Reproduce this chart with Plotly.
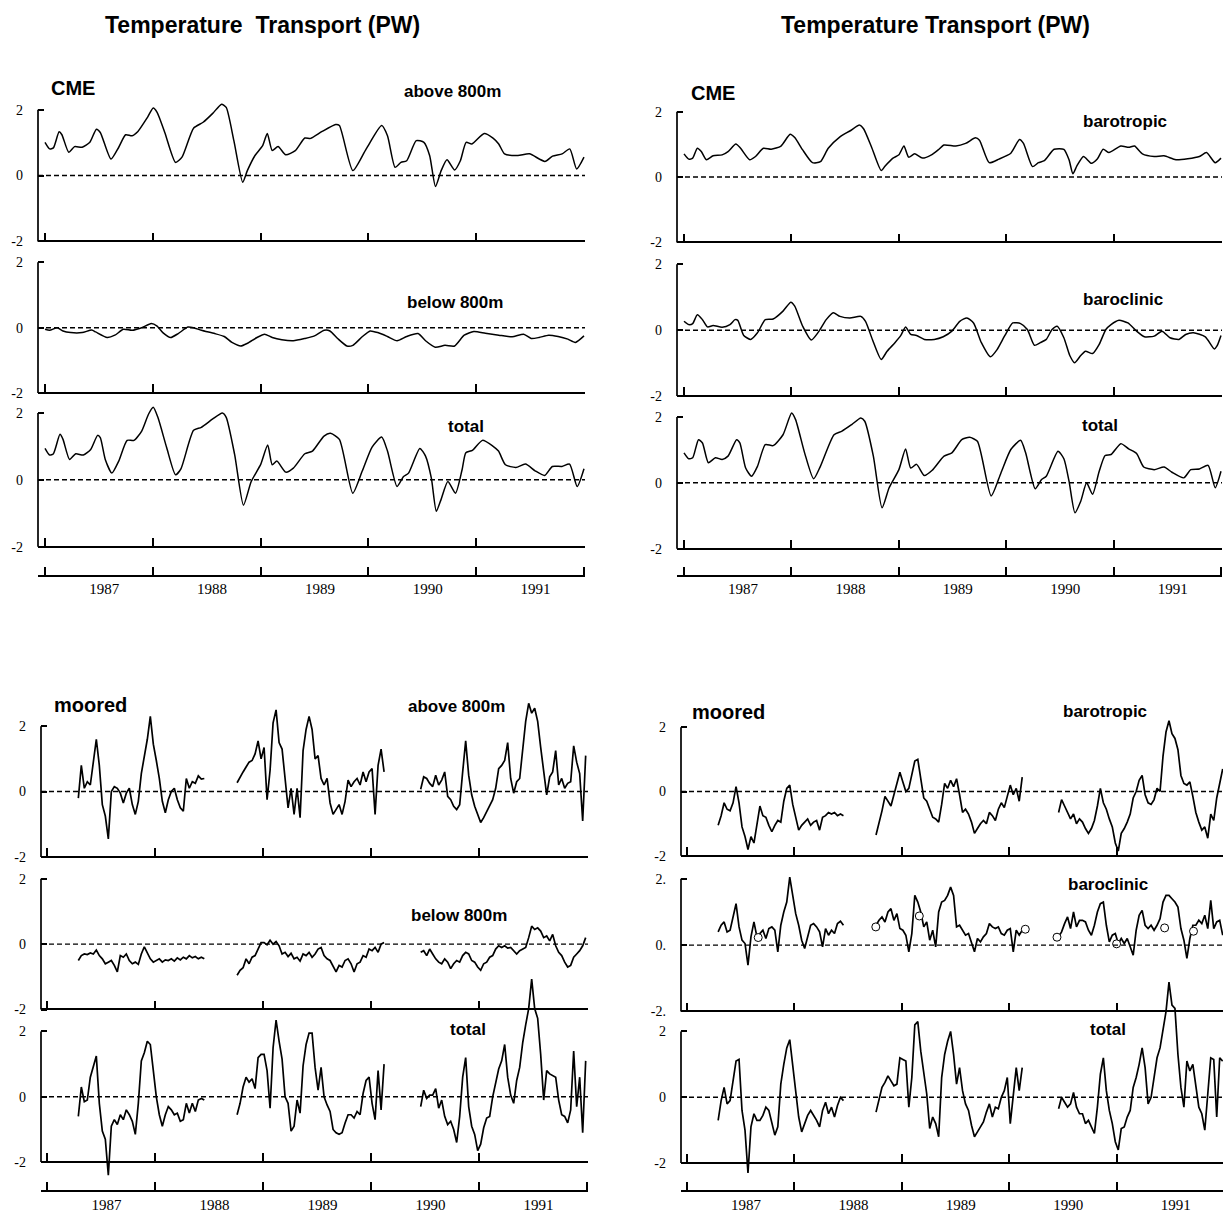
import numpy as np
import plotly.graph_objects as go

W, H = 1223, 1213

# ---------------------------------------------------------------- data
years = [1987, 1988, 1989, 1990, 1991, 1992]
year_labels = ["1987", "1988", "1989", "1990", "1991"]

# CME model transports (decimal year, PW)
cme_above_t = [1987.000, 1987.043, 1987.078, 1987.131, 1987.157, 1987.220, 1987.274, 1987.345, 1987.416, 1987.477,
               1987.513, 1987.612, 1987.684, 1987.748, 1987.808, 1987.862, 1987.951, 1988.004, 1988.040, 1988.111,
               1988.211, 1988.271, 1988.378, 1988.467, 1988.556, 1988.638, 1988.681, 1988.752, 1988.834, 1988.877,
               1988.948, 1989.019, 1989.062, 1989.108, 1989.162, 1989.233, 1989.322, 1989.410, 1989.464, 1989.571,
               1989.696, 1989.731, 1989.856, 1989.980, 1990.123, 1990.177, 1990.248, 1990.302, 1990.355, 1990.444,
               1990.515, 1990.568, 1990.622, 1990.675, 1990.729, 1990.800, 1990.853, 1990.907, 1990.960, 1991.074,
               1991.156, 1991.209, 1991.263, 1991.387, 1991.494, 1991.637, 1991.708, 1991.797, 1991.868, 1991.932,
               1992.000]
cme_above_v = [1.01, 0.81, 0.84, 1.33, 1.24, 0.71, 0.88, 0.86, 1.01, 1.41,
               1.31, 0.50, 0.86, 1.24, 1.21, 1.34, 1.77, 2.05, 1.92, 1.31,
               0.40, 0.56, 1.44, 1.62, 1.89, 2.17, 2.07, 1.06, -0.20, 0.15,
               0.61, 0.91, 1.28, 0.76, 0.88, 0.63, 0.76, 1.14, 1.13, 1.34,
               1.55, 1.52, 0.15, 0.81, 1.52, 1.21, 0.25, 0.40, 0.45, 1.06,
               1.01, 0.61, -0.33, 0.15, 0.48, 0.17, 0.45, 1.01, 0.96, 1.28,
               1.14, 0.96, 0.66, 0.61, 0.66, 0.43, 0.59, 0.66, 0.81, 0.20,
               0.56]

cme_below_t = [1987.000, 1987.043, 1987.114, 1987.167, 1987.238, 1987.345, 1987.434, 1987.470, 1987.577, 1987.648,
               1987.727, 1987.808, 1987.897, 1987.986, 1988.040, 1988.093, 1988.165, 1988.236, 1988.325, 1988.378,
               1988.450, 1988.574, 1988.663, 1988.734, 1988.816, 1988.877, 1988.966, 1989.037, 1989.108, 1989.197,
               1989.304, 1989.410, 1989.500, 1989.590, 1989.643, 1989.714, 1989.800, 1989.856, 1989.945, 1990.016,
               1990.087, 1990.177, 1990.266, 1990.355, 1990.460, 1990.530, 1990.620, 1990.710, 1990.800, 1990.889,
               1990.978, 1991.085, 1991.210, 1991.334, 1991.440, 1991.510, 1991.583, 1991.672, 1991.760, 1991.850,
               1991.920, 1992.000]
cme_below_v = [-0.05, -0.08, 0.00, -0.10, -0.15, -0.15, -0.07, -0.13, -0.30, -0.23,
               -0.05, -0.08, 0.00, 0.13, 0.05, -0.15, -0.30, -0.18, 0.02, 0.00,
               -0.08, -0.18, -0.27, -0.45, -0.56, -0.48, -0.30, -0.20, -0.30, -0.37,
               -0.40, -0.33, -0.25, -0.08, -0.10, -0.33, -0.56, -0.54, -0.27, -0.10,
               -0.15, -0.27, -0.40, -0.27, -0.18, -0.40, -0.60, -0.54, -0.56, -0.23,
               -0.12, -0.17, -0.23, -0.28, -0.20, -0.33, -0.30, -0.23, -0.27, -0.35,
               -0.45, -0.25]

cme_total_t = [1987.000, 1987.043, 1987.078, 1987.139, 1987.167, 1987.228, 1987.285, 1987.356, 1987.424, 1987.488,
               1987.513, 1987.559, 1987.620, 1987.684, 1987.762, 1987.826, 1987.897, 1987.961, 1988.004, 1988.047,
               1988.129, 1988.211, 1988.261, 1988.378, 1988.450, 1988.556, 1988.645, 1988.681, 1988.759, 1988.841,
               1988.913, 1989.002, 1989.066, 1989.108, 1989.151, 1989.233, 1989.304, 1989.410, 1989.481, 1989.588,
               1989.648, 1989.731, 1989.855, 1989.944, 1990.034, 1990.123, 1990.177, 1990.266, 1990.326, 1990.372,
               1990.477, 1990.530, 1990.584, 1990.630, 1990.673, 1990.737, 1990.808, 1990.869, 1990.904, 1990.965,
               1991.058, 1991.154, 1991.207, 1991.271, 1991.368, 1991.457, 1991.546, 1991.635, 1991.706, 1991.795,
               1991.866, 1991.937, 1992.000]
cme_total_v = [0.94, 0.74, 0.78, 1.36, 1.21, 0.61, 0.78, 0.74, 0.91, 1.33,
               1.26, 0.61, 0.20, 0.56, 1.18, 1.18, 1.46, 1.97, 2.17, 1.87,
               0.96, 0.15, 0.33, 1.48, 1.57, 1.82, 2.00, 1.87, 0.76, -0.76,
               -0.05, 0.47, 1.04, 0.45, 0.56, 0.23, 0.35, 0.78, 0.86, 1.31,
               1.39, 1.21, -0.40, 0.27, 0.98, 1.28, 0.86, -0.20, 0.10, 0.20,
               0.94, 0.71, 0.05, -0.94, -0.60, -0.05, -0.40, 0.30, 0.81, 0.88,
               1.18, 1.01, 0.86, 0.45, 0.37, 0.47, 0.27, 0.13, 0.40, 0.40,
               0.47, -0.20, 0.33]

cme_btrop_t = [1987.000, 1987.044, 1987.081, 1987.124, 1987.161, 1987.208, 1987.271, 1987.355, 1987.410, 1987.483,
               1987.527, 1987.611, 1987.666, 1987.739, 1987.812, 1987.903, 1987.988, 1988.031, 1988.105, 1988.196,
               1988.270, 1988.343, 1988.452, 1988.544, 1988.635, 1988.672, 1988.745, 1988.836, 1988.873, 1988.946,
               1989.001, 1989.048, 1989.092, 1989.147, 1989.220, 1989.304, 1989.366, 1989.421, 1989.531, 1989.622,
               1989.714, 1989.751, 1989.842, 1989.933, 1990.043, 1990.124, 1990.161, 1990.245, 1990.300, 1990.355,
               1990.446, 1990.537, 1990.585, 1990.621, 1990.658, 1990.720, 1990.793, 1990.848, 1990.903, 1990.957,
               1991.067, 1991.140, 1991.195, 1991.268, 1991.378, 1991.470, 1991.580, 1991.690, 1991.799, 1991.865,
               1991.946, 1992.000]
cme_btrop_v = [0.71, 0.55, 0.58, 0.88, 0.78, 0.53, 0.65, 0.68, 0.78, 1.01,
               0.88, 0.53, 0.63, 0.88, 0.85, 0.95, 1.31, 1.21, 0.83, 0.44,
               0.47, 0.88, 1.23, 1.41, 1.59, 1.48, 0.93, 0.20, 0.34, 0.58,
               0.68, 0.95, 0.61, 0.71, 0.58, 0.68, 0.83, 0.98, 0.95, 1.03,
               1.20, 1.13, 0.44, 0.55, 0.73, 1.15, 1.03, 0.32, 0.44, 0.50,
               0.85, 0.85, 0.53, 0.10, 0.34, 0.63, 0.42, 0.55, 0.85, 0.75,
               0.95, 0.91, 0.95, 0.71, 0.63, 0.65, 0.53, 0.56, 0.63, 0.75,
               0.44, 0.58]

cme_bclin_t = [1987.000, 1987.044, 1987.081, 1987.124, 1987.172, 1987.219, 1987.271, 1987.355, 1987.428, 1987.475,
               1987.501, 1987.556, 1987.622, 1987.684, 1987.757, 1987.830, 1987.922, 1987.995, 1988.031, 1988.105,
               1988.185, 1988.251, 1988.324, 1988.390, 1988.452, 1988.544, 1988.646, 1988.690, 1988.756, 1988.836,
               1988.891, 1988.964, 1989.019, 1989.063, 1989.111, 1989.165, 1989.238, 1989.330, 1989.414, 1989.494,
               1989.568, 1989.634, 1989.696, 1989.769, 1989.853, 1989.915, 1989.988, 1990.061, 1990.134, 1990.197,
               1990.263, 1990.318, 1990.373, 1990.427, 1990.475, 1990.537, 1990.592, 1990.636, 1990.694, 1990.738,
               1990.804, 1990.866, 1990.928, 1990.976, 1991.050, 1991.133, 1991.214, 1991.287, 1991.378, 1991.451,
               1991.525, 1991.609, 1991.671, 1991.744, 1991.854, 1991.938, 1991.963, 1992.000]
cme_bclin_v = [0.27, 0.17, 0.20, 0.47, 0.32, 0.10, 0.14, 0.09, 0.17, 0.32,
               0.30, -0.16, -0.28, -0.08, 0.32, 0.34, 0.58, 0.85, 0.73, 0.12,
               -0.30, -0.06, 0.32, 0.53, 0.42, 0.37, 0.42, 0.27, -0.30, -0.89,
               -0.64, -0.38, -0.16, 0.10, -0.13, -0.16, -0.28, -0.28, -0.20, -0.03,
               0.27, 0.37, 0.22, -0.38, -0.81, -0.59, -0.16, 0.22, 0.20, 0.02,
               -0.46, -0.38, -0.28, 0.02, 0.12, -0.23, -0.77, -0.99, -0.77, -0.64,
               -0.71, -0.43, 0.02, 0.17, 0.30, 0.22, -0.03, -0.20, -0.18, -0.03,
               -0.23, -0.28, -0.13, -0.08, -0.20, -0.57, -0.48, -0.16]

cme_total2_t = [1987.000, 1987.044, 1987.081, 1987.135, 1987.172, 1987.227, 1987.293, 1987.355, 1987.410, 1987.490,
                1987.520, 1987.574, 1987.629, 1987.684, 1987.757, 1987.830, 1987.922, 1988.002, 1988.039, 1988.123,
                1988.207, 1988.270, 1988.397, 1988.471, 1988.562, 1988.646, 1988.683, 1988.763, 1988.844, 1988.910,
                1989.001, 1989.063, 1989.111, 1989.165, 1989.238, 1989.311, 1989.421, 1989.494, 1989.586, 1989.659,
                1989.732, 1989.860, 1989.951, 1990.043, 1990.134, 1990.181, 1990.270, 1990.329, 1990.373, 1990.482,
                1990.537, 1990.585, 1990.640, 1990.694, 1990.749, 1990.804, 1990.866, 1990.921, 1990.976, 1991.067,
                1991.140, 1991.214, 1991.280, 1991.378, 1991.470, 1991.543, 1991.653, 1991.719, 1991.799, 1991.880,
                1991.946, 1992.000]
cme_total2_v = [0.91, 0.73, 0.76, 1.31, 1.21, 0.61, 0.76, 0.71, 0.81, 1.31,
                1.21, 0.45, 0.20, 0.50, 1.16, 1.13, 1.46, 2.12, 1.92, 0.91,
                0.12, 0.50, 1.46, 1.57, 1.77, 1.97, 1.87, 0.81, -0.76, -0.15,
                0.40, 1.03, 0.45, 0.56, 0.22, 0.38, 0.81, 0.91, 1.31, 1.38,
                1.26, -0.40, 0.30, 1.01, 1.29, 0.91, -0.18, 0.10, 0.20, 0.96,
                0.73, 0.05, -0.91, -0.56, 0.00, -0.35, 0.35, 0.83, 0.86, 1.19,
                1.03, 0.89, 0.48, 0.40, 0.48, 0.32, 0.15, 0.40, 0.42, 0.53,
                -0.15, 0.35]

# Moored array: three deployment periods, values every 10 days (PW)
seg_start = [1987.29, 1988.76, 1990.46]
seg_step = 1.0 / 36.0

moor_above_a = [-0.2, 0.8, 0.1, 0.3, 0.2, 1.0, 1.6, 0.8, -0.4, -0.75, -1.45, 0.0, 0.15, 0.1, -0.05,
                -0.35, -0.05, 0.1, -0.4, -0.7, -0.3, 0.55, 1.1, 1.6, 2.3, 1.45, 0.95, 0.4, -0.3, -0.65,
                -0.25, 0.0, 0.1, -0.25, -0.5, -0.6, 0.4, 0.1, 0.3, 0.25, 0.48, 0.38, 0.4]
moor_above_b = [0.27, 0.45, 0.6, 0.75, 0.9, 0.95, 1.15, 1.55, 1.0, 1.35, -0.25, 0.65, 2.1, 2.5, 1.5,
                1.3, 0.5, -0.5, 0.1, -0.7, 0.1, -0.8, 1.25, 1.9, 2.3, 1.9, 1.0, 1.1, 0.4, 0.2,
                0.4, -0.35, -0.7, -0.55, -0.4, -0.7, -0.3, 0.35, 0.15, 0.3, 0.4, 0.2, 0.6, 0.3, 0.6,
                0.7, -0.7, 0.8, 1.3, 0.6]
moor_above_c = [0.07, 0.45, 0.4, 0.25, 0.15, 0.5, 0.2, 0.35, 0.6, -0.15, -0.25, -0.45, -0.55, -0.4, 0.6,
                1.55, 0.5, -0.1, -0.45, -0.7, -0.95, -0.8, -0.6, -0.4, -0.25, 0.1, 0.7, 0.8, 0.95, 1.5,
                0.4, -0.05, 0.3, 0.4, 1.3, 2.15, 2.7, 2.4, 2.55, 2.15, 1.35, 0.7, -0.1, 0.45, 0.6,
                1.25, 0.2, 0.4, 0.1, 0.25, 0.3, 1.4, 0.9, 0.55, -0.9, 1.1]

moor_below_a = [-0.5, -0.35, -0.3, -0.32, -0.27, -0.3, -0.18, -0.35, -0.45, -0.6, -0.55, -0.5, -0.65, -0.85, -0.35,
                -0.4, -0.3, -0.5, -0.6, -0.55, -0.62, -0.3, -0.08, -0.25, -0.45, -0.55, -0.5, -0.45, -0.55, -0.48,
                -0.5, -0.45, -0.52, -0.42, -0.48, -0.4, -0.45, -0.35, -0.42, -0.38, -0.45, -0.4, -0.45]
moor_below_b = [-0.95, -0.8, -0.72, -0.45, -0.6, -0.4, -0.35, -0.15, 0.05, 0.05, -0.02, 0.12, 0.0, 0.08, -0.05,
                -0.3, -0.25, -0.38, -0.28, -0.45, -0.4, -0.52, -0.3, -0.35, -0.25, -0.4, -0.3, -0.15, -0.1, -0.35,
                -0.45, -0.5, -0.7, -0.85, -0.65, -0.7, -0.5, -0.45, -0.6, -0.85, -0.6, -0.55, -0.35, -0.4, -0.15,
                -0.2, -0.1, -0.25, 0.0, 0.05]
moor_below_c = [-0.25, -0.2, -0.35, -0.15, -0.3, -0.45, -0.55, -0.6, -0.45, -0.55, -0.75, -0.6, -0.5, -0.55, -0.35,
                -0.25, -0.3, -0.5, -0.55, -0.7, -0.8, -0.6, -0.55, -0.4, -0.35, -0.15, -0.05, -0.1, -0.05, -0.12,
                -0.1, -0.2, -0.3, -0.2, -0.15, -0.1, 0.2, 0.55, 0.45, 0.5, 0.4, 0.2, 0.25, 0.1, 0.3,
                -0.05, -0.25, -0.35, -0.55, -0.7, -0.65, -0.4, -0.3, -0.2, -0.05, 0.2]

moor_total_a = [-0.6, 0.3, -0.15, -0.1, 0.6, 0.95, 1.25, -0.2, -1.05, -1.3, -2.4, -0.9, -0.7, -0.85, -0.55,
                -0.7, -0.4, -0.55, -0.75, -1.15, -0.2, 1.1, 1.35, 1.7, 1.6, 0.8, 0.0, -0.55, -0.9, -0.55,
                -0.3, -0.4, -0.55, -0.5, -0.75, -0.7, -0.2, -0.5, -0.2, -0.45, -0.1, -0.05, -0.1]
moor_total_b = [-0.55, -0.2, 0.3, 0.6, 0.45, 0.55, 0.25, 1.2, 1.3, 1.3, 0.8, -0.35, 1.5, 2.35, 1.7,
                1.15, 0.0, -0.2, -1.05, -0.9, -0.1, -0.5, 0.95, 1.6, 1.95, 1.95, 0.9, 0.2, 0.9, 0.0,
                -0.25, -0.45, -1.0, -1.1, -1.15, -1.1, -0.8, -0.55, -0.55, -0.65, -0.45, -0.55, 0.1, 0.5, 0.6,
                -0.2, -0.7, 0.8, -0.4, 1.0]
moor_total_c = [-0.3, 0.2, -0.05, 0.05, 0.05, 0.25, -0.35, -0.1, -0.6, -0.85, -0.75, -1.0, -1.4, -0.6, 0.6,
                1.2, -0.3, -0.9, -1.15, -1.65, -1.45, -0.95, -0.65, -0.6, 0.0, 0.4, 0.85, 1.1, 1.6, 0.6,
                0.05, -0.2, 0.5, 0.9, 1.65, 2.2, 2.7, 3.6, 2.7, 2.4, 1.3, -0.1, 0.8, 0.7, 0.65,
                0.6, -0.1, -0.55, -0.6, -0.8, -0.4, 1.4, -0.3, 0.6, -1.1, 1.1]

moor_btrop_a = [-1.05, -0.75, -0.35, -0.55, -0.6, -0.35, 0.15, -0.35, -1.1, -1.4, -1.8, -1.4, -1.6, -0.95, -0.45,
                -0.75, -0.8, -1.05, -1.25, -1.05, -0.9, -0.95, -0.3, 0.1, 0.2, -0.4, -0.8, -1.2, -1.05, -0.95,
                -0.85, -1.05, -0.95, -0.9, -1.2, -0.8, -0.75, -0.65, -0.7, -0.65, -0.75, -0.7, -0.75]
moor_btrop_b = [-1.35, -1.0, -0.6, -0.15, -0.3, -0.45, -0.1, 0.25, 0.6, 0.3, 0.0, 0.1, 0.5, 0.95, 1.0,
                0.35, -0.2, -0.3, -0.55, -0.8, -0.85, -0.95, -0.4, 0.25, 0.1, 0.35, 0.15, 0.4, -0.1, -0.65,
                -0.55, -0.7, -0.95, -1.3, -1.15, -1.0, -0.9, -1.0, -0.65, -0.75, -0.9, -0.55, -0.35, -0.5, -0.15,
                0.2, -0.1, 0.1, -0.3, 0.45]
moor_btrop_c = [-0.65, -0.25, -0.45, -0.65, -0.85, -0.7, -1.0, -0.85, -0.95, -1.15, -1.3, -1.15, -0.9, -0.45, 0.1,
                -0.35, -0.55, -0.85, -1.1, -1.6, -1.85, -1.3, -1.15, -0.95, -0.7, -0.2, 0.0, 0.35, 0.5, -0.1,
                -0.35, -0.4, -0.25, 0.1, 0.0, 1.1, 1.85, 2.2, 1.8, 1.65, 1.3, 0.5, 0.25, 0.2, 0.3,
                -0.15, -0.65, -0.95, -1.2, -1.1, -1.45, -0.7, -0.9, -0.2, 0.3, 0.7]

moor_bclin_a = [0.4, 0.6, 0.7, 0.4, 0.45, 0.9, 1.25, 0.55, 0.15, 0.05, -0.6, 0.25, 0.7, 0.25, 0.35,
                0.45, 0.2, 0.5, 0.55, 0.45, -0.2, 0.6, 1.0, 1.3, 2.05, 1.5, 0.95, 0.6, 0.15, -0.1,
                0.25, 0.6, 0.65, 0.55, 0.4, -0.05, 0.5, 0.3, 0.45, 0.35, 0.65, 0.72, 0.6]
moor_bclin_b = [0.6, 0.75, 0.85, 0.7, 1.0, 1.1, 0.75, 0.95, 0.5, 0.45, 0.3, -0.2, 0.35, 1.5, 1.3,
                1.0, 0.55, 0.7, 0.15, 0.45, -0.05, 1.0, 1.3, 1.35, 1.5, 1.75, 1.5, 0.55, 0.6, 0.45,
                0.3, 0.35, 0.1, -0.2, 0.2, 0.1, 0.25, 0.35, 0.65, 0.55, 0.5, 0.55, 0.35, 0.3, 0.45,
                0.5, -0.2, 0.45, 0.3, 0.45]
moor_bclin_c = [0.25, 0.4, 0.65, 0.85, 0.5, 1.0, 0.55, 0.75, 0.75, 0.7, 0.45, 0.3, 0.6, 1.0, 1.25,
                1.3, 0.6, 0.1, 0.3, 0.35, 0.05, 0.2, 0.05, 0.2, -0.05, -0.3, 0.45, 0.9, 1.05, 0.6,
                0.5, 0.6, 0.45, 0.6, 0.8, 1.3, 1.5, 1.5, 1.4, 1.3, 1.15, 0.5, 0.15, -0.4, 0.2,
                0.6, 0.6, 0.75, 0.65, 0.9, 0.5, 1.35, 0.5, 0.7, 0.75, 0.3]

moor_total2_a = [-0.7, -0.1, 0.3, -0.2, -0.1, 0.5, 1.1, 1.15, -0.4, -1.0, -2.3, -0.9, -0.5, -0.7, -0.7,
                 -0.55, -0.3, -0.4, -0.75, -1.15, -0.9, 0.4, 1.0, 1.5, 1.75, 0.9, 0.1, -0.6, -1.05, -0.8,
                 -0.55, -0.4, -0.55, -0.7, -0.9, -0.4, -0.15, -0.5, -0.3, -0.6, -0.25, 0.0, -0.1]
moor_total2_b = [-0.45, -0.1, 0.3, 0.45, 0.65, 0.5, 0.35, 0.4, 1.2, 1.15, 1.1, -0.3, 0.6, 2.2, 2.3,
                 1.4, 0.8, 0.1, -0.95, -0.6, -0.8, -1.2, 0.6, 1.3, 1.7, 2.0, 1.3, 0.4, 0.9, 0.2,
                 -0.2, -0.4, -0.85, -1.2, -1.05, -0.9, -0.75, -0.45, -0.2, -0.6, -0.3, -0.35, 0.0, 0.2, 0.6,
                 -0.8, 0.0, 0.9, 0.2, 0.9]
moor_total2_c = [-0.35, 0.0, -0.15, -0.3, -0.2, 0.15, -0.3, -0.5, -0.5, -0.8, -0.7, -0.9, -1.1, -0.3, 0.7,
                 1.2, 0.2, -0.4, -0.8, -1.35, -1.6, -0.95, -0.9, -0.6, -0.4, 0.3, 0.6, 1.0, 1.5, 0.9,
                 -0.2, 0.0, 0.6, 1.2, 1.5, 2.1, 2.6, 3.5, 2.8, 2.7, 1.3, 0.3, -0.3, 1.1, 0.8,
                 1.0, 0.4, -0.3, -0.5, -1.0, 0.1, 1.2, 1.15, -0.6, 1.2, 1.1]

# section estimates shown as open circles on the moored baroclinic record
circle_t = [1987.663, 1988.758, 1989.163, 1990.150, 1990.445, 1991.000, 1991.447, 1991.716]
circle_v = [0.23, 0.55, 0.88, 0.48, 0.24, 0.04, 0.52, 0.42]


def joined(*parts):
    xs, ys = [], []
    for start, vals in zip(seg_start, parts):
        xs += list(start + seg_step * np.arange(len(vals))) + [None]
        ys += list(vals) + [None]
    return xs, ys


# ---------------------------------------------------------------- layout geometry (pixels)
YLO, YHI = -2.6, 3.9
SANS = "Liberation Sans"
SERIF = "Liberation Serif"

panels = [
    dict(axis=38, t0=45, t5=584, right=585, rows=[(110, 242), (263, 394), (414, 548)], year_px=577,
         tag="CME", tag_xy=(49, 88),
         labels=[("above 800m", 453, 92), ("below 800m", 455, 303), ("total", 466, 428)]),
    dict(axis=677, t0=684, t5=1221, right=1222, rows=[(112, 243), (265, 397), (418, 550)], year_px=577,
         tag="CME", tag_xy=(689, 93),
         labels=[("barotropic", 1125, 122), ("baroclinic", 1123, 300), ("total", 1100, 427)]),
    dict(axis=41, t0=47, t5=587, right=588, rows=[(728, 859), (881, 1012), (1034, 1165)], year_px=1194,
         tag="moored", tag_xy=(52, 707),
         labels=[("above 800m", 456, 708), ("below 800m", 459, 918), ("total", 468, 1032)]),
    dict(axis=681, t0=687, t5=1224, right=1223, rows=[(729, 858), (881, 1014), (1034, 1166)], year_px=1194,
         tag="moored", tag_xy=(690, 714),
         labels=[("barotropic", 1105, 713), ("baroclinic", 1108, 887), ("total", 1108, 1032)]),
]

series = [
    [(cme_above_t, cme_above_v), (cme_below_t, cme_below_v), (cme_total_t, cme_total_v)],
    [(cme_btrop_t, cme_btrop_v), (cme_bclin_t, cme_bclin_v), (cme_total2_t, cme_total2_v)],
    [joined(moor_above_a, moor_above_b, moor_above_c),
     joined(moor_below_a, moor_below_b, moor_below_c),
     joined(moor_total_a, moor_total_b, moor_total_c)],
    [joined(moor_btrop_a, moor_btrop_b, moor_btrop_c),
     joined(moor_bclin_a, moor_bclin_b, moor_bclin_c),
     joined(moor_total2_a, moor_total2_b, moor_total2_c)],
]


def sfx(k):
    return "" if k == 1 else str(k)


fig = go.Figure()
layout = {}
shapes = []
annotations = []

k = 0
for p, panel in enumerate(panels):
    ppy = (panel["t5"] - panel["t0"]) / 5.0
    xr = [1987 + (panel["axis"] - panel["t0"]) / ppy, 1987 + (panel["right"] - panel["t0"]) / ppy]
    xdom = [panel["axis"] / W, panel["right"] / W]
    for r, (top, bot) in enumerate(panel["rows"]):
        k += 1
        s = sfx(k)
        ppu = (bot - top) / 4.0
        py = lambda v: bot - (v + 2) * ppu
        ydom = [1 - py(YLO) / H, 1 - py(YHI) / H]
        ticktext = ["-2.", "0.", "2."] if (p == 3 and r == 1) else ["-2", "0", "2"]
        layout["xaxis" + s] = dict(
            domain=xdom, range=xr, anchor="free", position=1 - bot / H,
            showline=True, linecolor="black", linewidth=1.7,
            tickmode="array", tickvals=years, ticks="inside", ticklen=8, tickwidth=1.5,
            tickcolor="black", showticklabels=False, showgrid=False, zeroline=False)
        layout["yaxis" + s] = dict(
            domain=ydom, range=[YLO, YHI], anchor="x" + s, showline=False,
            tickmode="array", tickvals=[-2, 0, 2], ticktext=ticktext,
            ticks="inside", ticklen=6, tickwidth=1.5, tickcolor="black",
            ticklabelstandoff=14, tickfont=dict(family=SERIF, size=14, color="black"),
            showgrid=False, zeroline=False)
        shapes.append(dict(type="line", xref="x" + s + " domain", yref="y" + s,
                           x0=0, x1=1, y0=0, y1=0,
                           line=dict(color="black", width=1.4, dash="5px,3px")))
        shapes.append(dict(type="line", xref="x" + s + " domain", yref="y" + s,
                           x0=0, x1=0, y0=-2, y1=2, line=dict(color="black", width=1.7)))

        tx, ty = series[p][r]
        smooth = p < 2
        fig.add_trace(go.Scatter(
            x=tx, y=ty, mode="lines", xaxis="x" + s, yaxis="y" + s,
            line=dict(color="black", width=1.5 if smooth else 1.7,
                      shape="spline" if smooth else "linear", smoothing=0.6 if smooth else None),
            connectgaps=False, hoverinfo="skip", showlegend=False))
        if p == 3 and r == 1:
            fig.add_trace(go.Scatter(
                x=circle_t, y=circle_v, mode="markers", xaxis="x" + s, yaxis="y" + s,
                marker=dict(symbol="circle", size=8, color="white", line=dict(color="black", width=1)),
                hoverinfo="skip", showlegend=False))

        label, lx, ly = panel["labels"][r]
        annotations.append(dict(text=label, x=lx / W, y=1 - ly / H, xref="paper", yref="paper",
                                xanchor="center", yanchor="middle", showarrow=False,
                                font=dict(family=SANS, size=17, color="black", weight="bold")))

    # calendar axis under each stack
    ka = 12 + p + 1
    layout["xaxis" + str(ka)] = dict(
        domain=xdom, range=xr, anchor="free", position=1 - panel["year_px"] / H,
        showline=True, linecolor="black", linewidth=1.7,
        tickmode="array", tickvals=[y + 0.55 for y in years[:-1]], ticktext=year_labels,
        ticks="", tickfont=dict(family=SERIF, size=15, color="black"),
        minor=dict(tickmode="array", tickvals=years, ticks="inside", ticklen=8,
                   tickwidth=1.5, tickcolor="black", showgrid=False),
        showgrid=False, zeroline=False)
    fig.add_trace(go.Scatter(x=[None], y=[None], mode="lines", xaxis="x" + str(ka),
                             yaxis="y" + sfx(k), hoverinfo="skip", showlegend=False))

    tx0, ty0 = panel["tag_xy"]
    annotations.append(dict(text=panel["tag"], x=tx0 / W, y=1 - ty0 / H, xref="paper", yref="paper",
                            xanchor="left", yanchor="middle", showarrow=False,
                            font=dict(family=SANS, size=20, color="black", weight="bold")))

for text, cx in [("Temperature\u00a0 Transport (PW)", 262), ("Temperature Transport (PW)", 935)]:
    annotations.append(dict(text=text, x=cx / W, y=1 - 25 / H, xref="paper", yref="paper",
                            xanchor="center", yanchor="middle", showarrow=False,
                            font=dict(family=SANS, size=23, color="black", weight="bold")))

fig.update_layout(**layout)
fig.update_layout(
    width=W, height=H, autosize=False,
    margin=dict(l=0, r=0, t=0, b=0),
    paper_bgcolor="white", plot_bgcolor="rgba(0,0,0,0)",
    showlegend=False, shapes=shapes, annotations=annotations)

fig.write_html("out.html", config={"displayModeBar": False})
